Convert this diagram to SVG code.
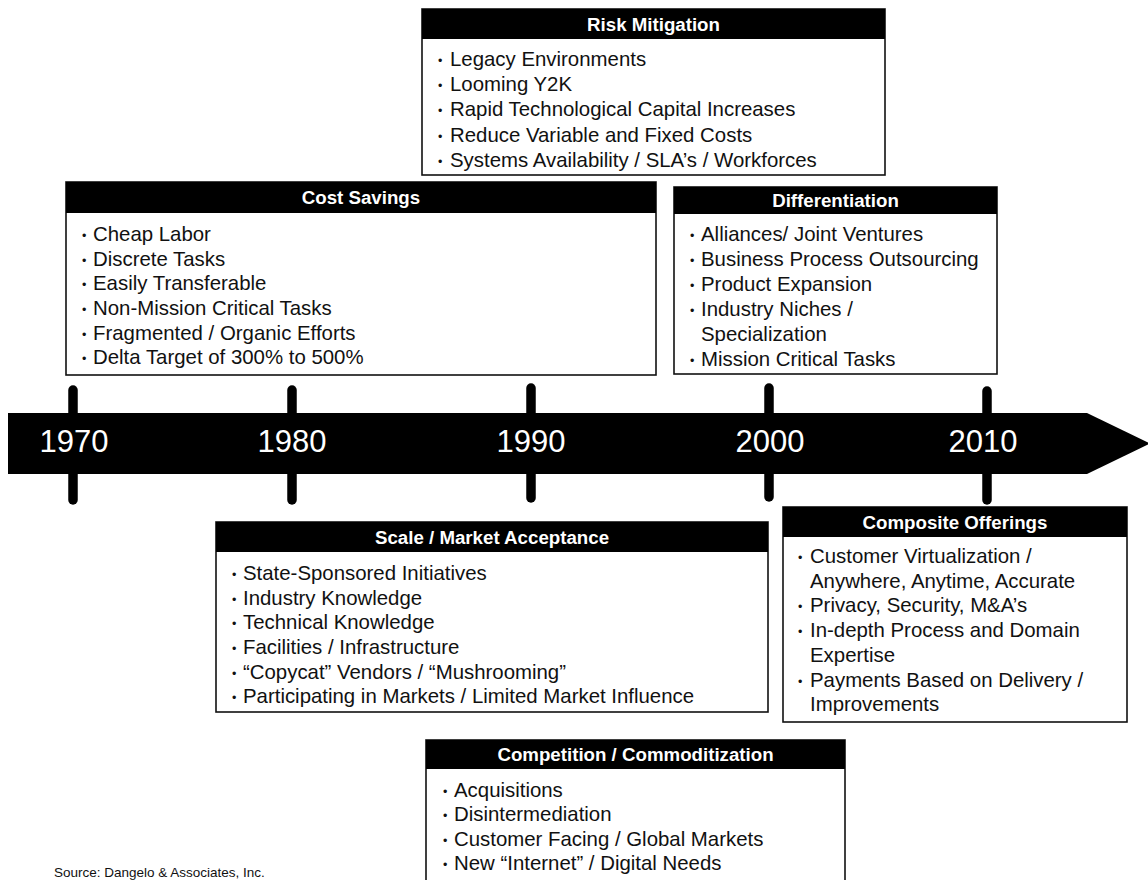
<svg xmlns="http://www.w3.org/2000/svg" width="1148" height="880" viewBox="0 0 1148 880">
<style>
.box{fill:#fff;stroke:#111;stroke-width:1.6}
.hdr{fill:#000}
.ht{font-family:"Liberation Sans",Arial,sans-serif;font-weight:bold;font-size:18.7px;fill:#fff;text-anchor:middle}
.bt{font-family:"Liberation Sans",Arial,sans-serif;font-size:20.4px;fill:#111}
.bu{font-size:12.5px}
.yr{font-family:"Liberation Sans",Arial,sans-serif;font-size:31px;fill:#fff;text-anchor:middle}
.tick{stroke:#000;stroke-width:9.5;stroke-linecap:round}
.src{font-family:"Liberation Sans",Arial,sans-serif;font-size:13.5px;fill:#111}
</style>
<rect width="1148" height="880" fill="#fff"/>
<g id="timeline">
<line class="tick" x1="73" y1="390" x2="73" y2="500"/>
<line class="tick" x1="292" y1="390" x2="292" y2="500"/>
<line class="tick" x1="531" y1="388" x2="531" y2="498"/>
<line class="tick" x1="769" y1="388" x2="769" y2="497"/>
<line class="tick" x1="987" y1="391" x2="987" y2="500"/>
<polygon points="8,413 1087,413 1150,443.5 1087,474 8,474" fill="#000"/>
<text class="yr" x="74" y="452">1970</text>
<text class="yr" x="292" y="452">1980</text>
<text class="yr" x="531" y="452">1990</text>
<text class="yr" x="770" y="452">2000</text>
<text class="yr" x="983" y="452">2010</text>
</g>
<g id="risk">
<rect class="box" x="422" y="9" width="463" height="166"/>
<rect class="hdr" x="422" y="9" width="463" height="30"/>
<text class="ht" x="653.5" y="31">Risk Mitigation</text>
<text class="bt" y="66"><tspan class="bu" x="438" dy="-1">•</tspan><tspan x="450" dy="1">Legacy Environments</tspan></text>
<text class="bt" y="91"><tspan class="bu" x="438" dy="-1">•</tspan><tspan x="450" dy="1">Looming Y2K</tspan></text>
<text class="bt" y="116"><tspan class="bu" x="438" dy="-1">•</tspan><tspan x="450" dy="1">Rapid Technological Capital Increases</tspan></text>
<text class="bt" y="142"><tspan class="bu" x="438" dy="-1">•</tspan><tspan x="450" dy="1">Reduce Variable and Fixed Costs</tspan></text>
<text class="bt" y="167"><tspan class="bu" x="438" dy="-1">•</tspan><tspan x="450" dy="1">Systems Availability / SLA’s / Workforces</tspan></text>
</g>
<g id="cost">
<rect class="box" x="66" y="182" width="590" height="193"/>
<rect class="hdr" x="66" y="182" width="590" height="31"/>
<text class="ht" x="361" y="204">Cost Savings</text>
<text class="bt" y="241"><tspan class="bu" x="82" dy="-1">•</tspan><tspan x="93" dy="1">Cheap Labor</tspan></text>
<text class="bt" y="266"><tspan class="bu" x="82" dy="-1">•</tspan><tspan x="93" dy="1">Discrete Tasks</tspan></text>
<text class="bt" y="290"><tspan class="bu" x="82" dy="-1">•</tspan><tspan x="93" dy="1">Easily Transferable</tspan></text>
<text class="bt" y="315"><tspan class="bu" x="82" dy="-1">•</tspan><tspan x="93" dy="1">Non-Mission Critical Tasks</tspan></text>
<text class="bt" y="340"><tspan class="bu" x="82" dy="-1">•</tspan><tspan x="93" dy="1">Fragmented / Organic Efforts</tspan></text>
<text class="bt" y="364"><tspan class="bu" x="82" dy="-1">•</tspan><tspan x="93" dy="1">Delta Target of 300% to 500%</tspan></text>
</g>
<g id="differentiation">
<rect class="box" x="674" y="187" width="323" height="187"/>
<rect class="hdr" x="674" y="187" width="323" height="27"/>
<text class="ht" x="835.5" y="207">Differentiation</text>
<text class="bt" y="241"><tspan class="bu" x="690" dy="-1">•</tspan><tspan x="701" dy="1">Alliances/ Joint Ventures</tspan></text>
<text class="bt" y="266"><tspan class="bu" x="690" dy="-1">•</tspan><tspan x="701" dy="1">Business Process Outsourcing</tspan></text>
<text class="bt" y="291"><tspan class="bu" x="690" dy="-1">•</tspan><tspan x="701" dy="1">Product Expansion</tspan></text>
<text class="bt" y="316"><tspan class="bu" x="690" dy="-1">•</tspan><tspan x="701" dy="1">Industry Niches /</tspan></text>
<text class="bt" y="341" x="701">Specialization</text>
<text class="bt" y="366"><tspan class="bu" x="690" dy="-1">•</tspan><tspan x="701" dy="1">Mission Critical Tasks</tspan></text>
</g>
<g id="scale">
<rect class="box" x="216" y="522" width="552" height="190"/>
<rect class="hdr" x="216" y="522" width="552" height="30"/>
<text class="ht" x="492" y="544">Scale / Market Acceptance</text>
<text class="bt" y="580"><tspan class="bu" x="232" dy="-1">•</tspan><tspan x="243" dy="1">State-Sponsored Initiatives</tspan></text>
<text class="bt" y="605"><tspan class="bu" x="232" dy="-1">•</tspan><tspan x="243" dy="1">Industry Knowledge</tspan></text>
<text class="bt" y="629"><tspan class="bu" x="232" dy="-1">•</tspan><tspan x="243" dy="1">Technical Knowledge</tspan></text>
<text class="bt" y="654"><tspan class="bu" x="232" dy="-1">•</tspan><tspan x="243" dy="1">Facilities / Infrastructure</tspan></text>
<text class="bt" y="679"><tspan class="bu" x="232" dy="-1">•</tspan><tspan x="243" dy="1">“Copycat” Vendors / “Mushrooming”</tspan></text>
<text class="bt" y="703"><tspan class="bu" x="232" dy="-1">•</tspan><tspan x="243" dy="1">Participating in Markets / Limited Market Influence</tspan></text>
</g>
<g id="composite">
<rect class="box" x="783" y="507" width="344" height="215"/>
<rect class="hdr" x="783" y="507" width="344" height="30"/>
<text class="ht" x="955" y="529">Composite Offerings</text>
<text class="bt" y="563"><tspan class="bu" x="798" dy="-1">•</tspan><tspan x="810" dy="1">Customer Virtualization /</tspan></text>
<text class="bt" y="588" x="810">Anywhere, Anytime, Accurate</text>
<text class="bt" y="612"><tspan class="bu" x="798" dy="-1">•</tspan><tspan x="810" dy="1">Privacy, Security, M&amp;A’s</tspan></text>
<text class="bt" y="637"><tspan class="bu" x="798" dy="-1">•</tspan><tspan x="810" dy="1">In-depth Process and Domain</tspan></text>
<text class="bt" y="662" x="810">Expertise</text>
<text class="bt" y="687"><tspan class="bu" x="798" dy="-1">•</tspan><tspan x="810" dy="1">Payments Based on Delivery /</tspan></text>
<text class="bt" y="711" x="810">Improvements</text>
</g>
<g id="competition">
<rect class="box" x="426" y="740" width="419" height="160"/>
<rect class="hdr" x="426" y="740" width="419" height="29"/>
<text class="ht" x="635.5" y="761">Competition / Commoditization</text>
<text class="bt" y="797"><tspan class="bu" x="443" dy="-1">•</tspan><tspan x="454" dy="1">Acquisitions</tspan></text>
<text class="bt" y="821"><tspan class="bu" x="443" dy="-1">•</tspan><tspan x="454" dy="1">Disintermediation</tspan></text>
<text class="bt" y="846"><tspan class="bu" x="443" dy="-1">•</tspan><tspan x="454" dy="1">Customer Facing / Global Markets</tspan></text>
<text class="bt" y="870"><tspan class="bu" x="443" dy="-1">•</tspan><tspan x="454" dy="1">New “Internet” / Digital Needs</tspan></text>
</g>
<g id="connectors"></g>
<text class="src" x="54" y="877">Source: Dangelo &amp; Associates, Inc.</text>
</svg>
